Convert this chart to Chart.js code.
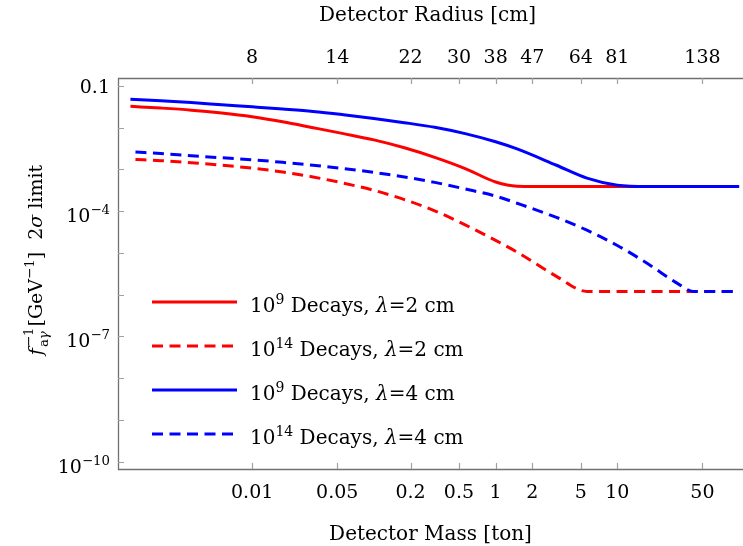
<!DOCTYPE html>
<html>
<head>
<meta charset="utf-8">
<script src="https://cdn.jsdelivr.net/npm/chart.js@4.4.0/dist/chart.umd.min.js"></script>
<style>
  html, body { margin: 0; padding: 0; background: #fff; }
  #wrap { width: 743px; height: 546px; position: relative; }
</style>
</head>
<body>
<div id="wrap"><canvas id="chart"></canvas></div>
<script>
// detector mass [ton] sample points (dashed curves start a little later)
const massSolid  = [0.001,  0.00178, 0.00316, 0.00562, 0.01, 0.0178, 0.0316, 0.0562, 0.1, 0.178, 0.316, 0.562, 1, 1.5, 3.16, 5.62, 10, 17.8, 31.6, 42, 100];
const massDashed = [0.0011, 0.00178, 0.00316, 0.00562, 0.01, 0.0178, 0.0316, 0.0562, 0.1, 0.178, 0.316, 0.562, 1, 1.5, 3.16, 5.62, 10, 17.8, 31.6, 42, 100];

// f^-1 limits [GeV^-1]
const red9   = [3.24e-2, 2.95e-2, 2.63e-2, 2.24e-2, 1.82e-2, 1.38e-2, 1.0e-2, 7.2e-3, 5.1e-3, 3.3e-3, 1.95e-3, 1.05e-3, 5.0e-4, 3.98e-4, 3.9e-4, 3.9e-4, 3.9e-4, 3.9e-4, 3.9e-4, 3.9e-4, 3.9e-4];
const red14  = [1.74e-3, 1.62e-3, 1.45e-3, 1.26e-3, 1.07e-3, 8.7e-4, 6.6e-4, 4.7e-4, 3.16e-4, 1.9e-4, 1.02e-4, 4.7e-5, 2.0e-5, 1.05e-5, 2.75e-6, 1.2e-6, 1.2e-6, 1.2e-6, 1.2e-6, 1.2e-6, 1.2e-6];
const blue9  = [4.8e-2, 4.4e-2, 4.0e-2, 3.55e-2, 3.16e-2, 2.8e-2, 2.45e-2, 2.04e-2, 1.66e-2, 1.32e-2, 1.02e-2, 7.2e-3, 4.6e-3, 3.1e-3, 1.26e-3, 6.2e-4, 4.2e-4, 3.9e-4, 3.9e-4, 3.9e-4, 3.9e-4];
const blue14 = [2.6e-3, 2.4e-3, 2.14e-3, 1.9e-3, 1.7e-3, 1.48e-3, 1.26e-3, 1.05e-3, 8.5e-4, 6.6e-4, 4.9e-4, 3.4e-4, 2.3e-4, 1.55e-4, 7.1e-5, 3.5e-5, 1.51e-5, 5.5e-6, 1.82e-6, 1.2e-6, 1.2e-6];

// axes
const massTicks = [0.01, 0.05, 0.2, 0.5, 1, 2, 5, 10, 50];
const massTickLabels = ["0.01", "0.05", "0.2", "0.5", "1", "2", "5", "10", "50"];
const radiusTickLabels = ["8", "14", "22", "30", "38", "47", "64", "81", "138"];
const yTickExps = [-1, -2, -3, -4, -5, -6, -7, -8, -9, -10];
const yLabelExps = [-1, -4, -7, -10];

const legendNames = [
  [{ t: "10" }, { t: "9", sup: true }, { t: " Decays, " }, { t: "λ", it: true }, { t: "=2 cm" }],
  [{ t: "10" }, { t: "14", sup: true }, { t: " Decays, " }, { t: "λ", it: true }, { t: "=2 cm" }],
  [{ t: "10" }, { t: "9", sup: true }, { t: " Decays, " }, { t: "λ", it: true }, { t: "=4 cm" }],
  [{ t: "10" }, { t: "14", sup: true }, { t: " Decays, " }, { t: "λ", it: true }, { t: "=4 cm" }],
];
const RED = "#ff0000", BLUE = "#0000ff";
const DASH = [11, 6.5];

const FONT = '"DejaVu Serif", "Liberation Serif", serif';
function font(size, italic) { return (italic ? "italic " : "") + size + "px " + FONT; }

function segWidth(ctx, s, size) {
  if (s.stack) {
    ctx.font = font(size * 0.7, false);
    const a = ctx.measureText(s.stack).width;
    let b = 0;
    s.sub.forEach(p => { ctx.font = font(size * 0.7, p.it); b += ctx.measureText(p.t).width; });
    return Math.max(a, b) + 2;
  }
  ctx.font = font(s.sup ? size * 0.7 : size, s.it);
  return ctx.measureText(s.t).width;
}

function drawRich(ctx, segs, x, y, size, align) {
  const w = segs.reduce((acc, s) => acc + segWidth(ctx, s, size), 0);
  let cx = align === "right" ? x - w : align === "center" ? x - w / 2 : x;
  ctx.textAlign = "left";
  ctx.textBaseline = "alphabetic";
  segs.forEach(s => {
    const sw = segWidth(ctx, s, size);
    if (s.stack) {
      ctx.font = font(size * 0.7, false);
      ctx.fillText(s.stack, cx + 1, y - size * 0.45);
      let sx = cx + 1;
      s.sub.forEach(p => {
        ctx.font = font(size * 0.7, p.it);
        ctx.fillText(p.t, sx, y + size * 0.3);
        sx += ctx.measureText(p.t).width;
      });
    } else {
      ctx.font = font(s.sup ? size * 0.7 : size, s.it);
      ctx.fillText(s.t, cx, s.sup ? y - size * 0.42 : y);
    }
    cx += sw;
  });
}

const framePlugin = {
  id: "frame",
  afterDraw(chart) {
    const { ctx, chartArea: a, scales } = chart;
    const xs = scales.x, ys = scales.y;
    ctx.save();

    // frame: left, bottom, top
    ctx.strokeStyle = "#707070";
    ctx.lineWidth = 1.3;
    ctx.beginPath();
    ctx.moveTo(a.right, a.top + 0.5); ctx.lineTo(a.left + 0.5, a.top + 0.5);
    ctx.lineTo(a.left + 0.5, a.bottom + 0.5); ctx.lineTo(a.right, a.bottom + 0.5);
    ctx.stroke();

    // inward ticks
    ctx.strokeStyle = "#a0a0a0";
    ctx.lineWidth = 1.2;
    ctx.beginPath();
    massTicks.forEach(m => {
      const px = Math.round(xs.getPixelForValue(m)) + 0.5;
      ctx.moveTo(px, a.bottom); ctx.lineTo(px, a.bottom - 6);
      ctx.moveTo(px, a.top); ctx.lineTo(px, a.top + 6);
    });
    yTickExps.forEach(e => {
      const py = Math.round(ys.getPixelForValue(Math.pow(10, e))) + 0.5;
      ctx.moveTo(a.left, py); ctx.lineTo(a.left + 6, py);
    });
    ctx.stroke();

    ctx.fillStyle = "#000";
    // bottom / top tick labels
    ctx.font = font(19, false);
    ctx.textAlign = "center";
    ctx.textBaseline = "alphabetic";
    massTicks.forEach((m, i) => {
      const px = xs.getPixelForValue(m);
      ctx.fillText(massTickLabels[i], px, a.bottom + 29);
      ctx.fillText(radiusTickLabels[i], px, a.top - 15);
    });

    // y tick labels
    yLabelExps.forEach(e => {
      const py = ys.getPixelForValue(Math.pow(10, e));
      if (e === -1) {
        drawRich(ctx, [{ t: "0.1" }], a.left - 8, py + 7, 19, "right");
      } else {
        drawRich(ctx, [{ t: "10" }, { t: "−" + (-e), sup: true }], a.left - 8, py + 11, 19, "right");
      }
    });

    // axis titles
    const cxMid = (a.left + a.right) / 2;
    ctx.font = font(20, false);
    ctx.textAlign = "center";
    ctx.fillText("Detector Mass [ton]", cxMid, 540);
    ctx.fillText("Detector Radius [cm]", cxMid - 3, 21);

    ctx.save();
    ctx.translate(42, 260);
    ctx.rotate(-Math.PI / 2);
    drawRich(ctx, [
      { t: "f", it: true },
      { stack: "−1", sub: [{ t: "a" }, { t: "γ", it: true }] },
      { t: "[GeV" }, { t: "−1", sup: true }, { t: "]  2" }, { t: "σ", it: true }, { t: " limit" }
    ], 0, 0, 19, "center");
    ctx.restore();

    // legend
    const colors = [RED, RED, BLUE, BLUE];
    const dashed = [false, true, false, true];
    legendNames.forEach((segs, i) => {
      const ly = 302 + i * 44;
      ctx.strokeStyle = colors[i];
      ctx.lineWidth = 3;
      ctx.setLineDash(dashed[i] ? DASH : []);
      ctx.beginPath();
      ctx.moveTo(152, ly); ctx.lineTo(237, ly);
      ctx.stroke();
      ctx.setLineDash([]);
      ctx.fillStyle = "#000";
      drawRich(ctx, segs, 250, ly + 10, 20, "left");
    });

    ctx.restore();
  }
};

const toPts = (xs, ys) => xs.map((x, i) => ({ x: x, y: ys[i] }));

new Chart(document.getElementById("chart"), {
  type: "line",
  data: {
    datasets: [
      { label: "1e9, 2 cm", data: toPts(massSolid, red9), borderColor: RED, order: 1 },
      { label: "1e14, 2 cm", data: toPts(massDashed, red14), borderColor: RED, borderDash: DASH, order: 1 },
      { label: "1e9, 4 cm", data: toPts(massSolid, blue9), borderColor: BLUE, order: 0 },
      { label: "1e14, 4 cm", data: toPts(massDashed, blue14), borderColor: BLUE, borderDash: DASH, order: 0 },
    ]
  },
  options: {
    responsive: true,
    maintainAspectRatio: false,
    animation: false,
    layout: { padding: { left: 118, top: 78, right: 0, bottom: 77 } },
    scales: {
      x: { type: "logarithmic", display: false, min: Math.pow(10, -3.102), max: Math.pow(10, 2.032) },
      y: { type: "logarithmic", display: false, min: Math.pow(10, -10.175), max: Math.pow(10, -0.81) }
    },
    elements: {
      point: { radius: 0 },
      line: { borderWidth: 3, cubicInterpolationMode: "monotone", fill: false }
    },
    plugins: { legend: { display: false }, tooltip: { enabled: false } }
  },
  plugins: [framePlugin]
});
</script>
</body>
</html>
